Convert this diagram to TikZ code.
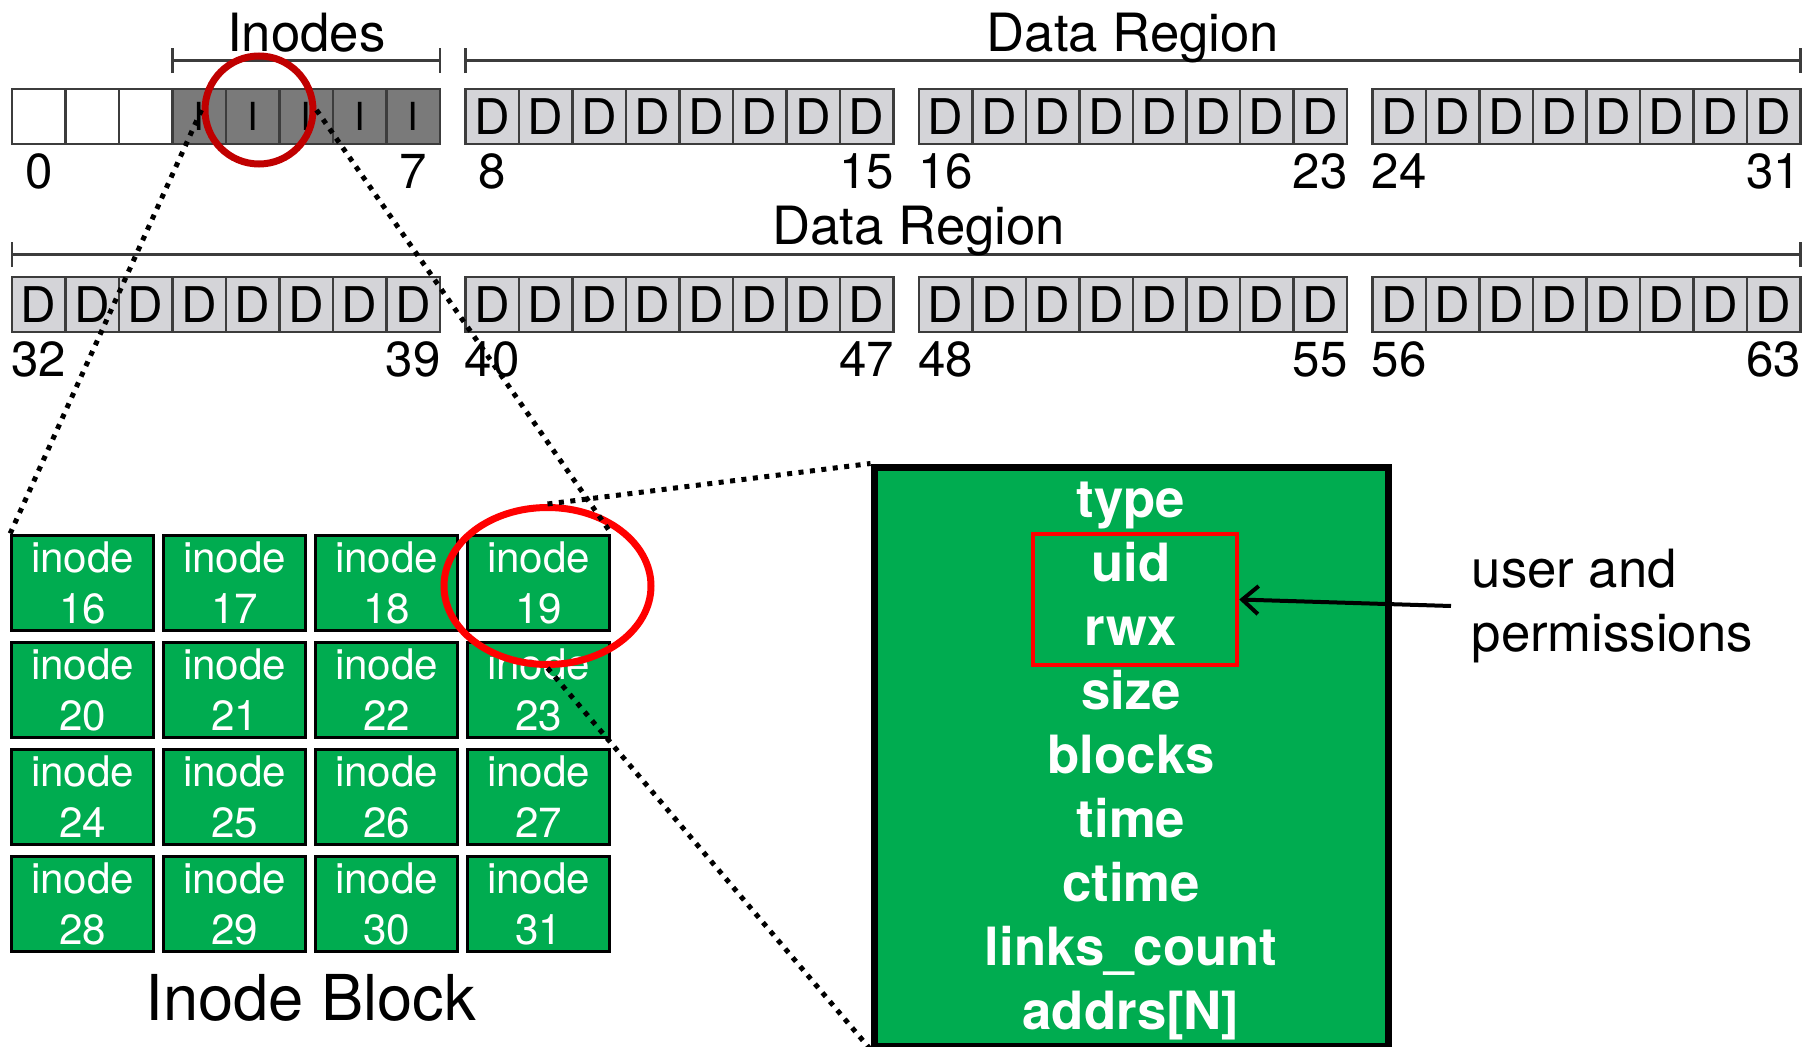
\documentclass[tikz,border=0pt]{standalone}
\usepackage{fontspec}
\setmainfont{TeX Gyre Heros}
\usetikzlibrary{positioning,shapes.geometric,arrows.meta}

\definecolor{igreen}{RGB}{0,172,80}
\definecolor{dgray}{RGB}{60,60,60}
\definecolor{igray}{RGB}{122,122,122}
\definecolor{dlight}{RGB}{212,212,216}
\definecolor{ringred}{RGB}{192,0,0}
\definecolor{boxred}{RGB}{255,0,0}

\tikzset{
	blk/.style={draw=dgray, line width=0.27mm, minimum width=5.35mm, minimum height=5.5mm, inner sep=0pt},
	freeblk/.style={blk, fill=white},
	iblk/.style={blk, fill=igray, font=\fontsize{11pt}{13pt}\selectfont},
	dblk/.style={blk, fill=dlight, font=\fontsize{14pt}{16pt}\selectfont},
	num/.style={inner sep=0pt, font=\fontsize{14pt}{16pt}\selectfont},
	lbl/.style={inner sep=0pt, font=\fontsize{15pt}{18pt}\selectfont},
	biglbl/.style={inner sep=0pt, font=\fontsize{18pt}{21pt}\selectfont},
	brk/.style={draw=dgray, line width=0.25mm, arrows={Bar[width=2.5mm]-Bar[width=2.5mm]}},
	cell/.style={draw=black, fill=igreen, line width=0.3mm, minimum width=14.2mm, minimum height=9.5mm, inner sep=0pt, text=white, align=center, font=\fontsize{12pt}{14.5pt}\selectfont},
	fieldbox/.style={draw=black, fill=igreen, line width=0.7mm, minimum width=51.4mm, minimum height=57.9mm, inner sep=0pt},
	field/.style={inner sep=0pt, text=white, font=\fontsize{15pt}{18pt}\selectfont\bfseries},
	permbox/.style={draw=boxred, line width=0.4mm, minimum width=20.45mm, minimum height=13.1mm, inner sep=0pt},
	note/.style={inner sep=0pt, align=left, font=\fontsize{15pt}{18.2pt}\selectfont},
	ptr/.style={line width=0.4mm, -{Straight Barb[length=1.6mm,width=2.8mm]}},
	zoomline/.style={line width=0.5mm, dash pattern=on 0.5mm off 0.65mm}
}

\begin{document}
\begin{tikzpicture}[x=0.1mm, y=-0.1mm]
	
	\useasboundingbox (0,0) rectangle (1813,1047);
	
	% disk blocks
	\foreach \n in {0,1,2}
		\node[freeblk] (b\n) at (38.75+53.5*\n,116.5) {};
	\foreach \n in {3,...,7}
		\node[iblk] (b\n) at (38.75+53.5*\n,116.5) {I};
	\foreach \n in {8,...,63}{
		\pgfmathtruncatemacro{\k}{mod(\n,32)}
		\pgfmathsetmacro{\xx}{38.75+453.5*int(\k/8)+53.5*mod(\k,8)}
		\pgfmathsetmacro{\yy}{\n<32 ? 116.5 : 304.5}
		\node[dblk] (b\n) at (\xx,\yy) {D};
	}
	
	\foreach \n in {0,7,8,15,16,23,24,31,32,39,40,47,48,55,56,63}
		\node[num, below=0.8mm of b\n] (l\n) {\n};
	
	\draw[brk] ([yshift=2.7mm]b3.north west) -- node[lbl, anchor=base, yshift=0.9mm] (inodeslbl) {Inodes} ([yshift=2.7mm]b7.north east);
	\draw[brk] ([yshift=2.7mm]b8.north west) -- node[lbl, anchor=base, yshift=0.9mm] (datalbl) {Data Region} ([yshift=2.7mm]b31.north east);
	\draw[brk] ([yshift=2.1mm]b32.north west) -- node[lbl, pos=0.507, anchor=base, yshift=1.0mm] (datalblb) {Data Region} ([yshift=2.1mm]b63.north east);
	
	% inode block
	\foreach \r in {0,...,3}
		\foreach \c in {0,...,3}{
			\pgfmathtruncatemacro{\n}{16+4*\r+\c}
			\node[cell] (c\n) at (82.7+152*\c,582.5+107*\r) {inode\\\n};
		}
	\node[biglbl, anchor=base] (blocklbl) at (311,1020) {Inode Block};
	
	% one inode
	\node[fieldbox] (ibox) at (1131,756.5) {};
	\foreach \f [count=\i] in {type,uid,rwx,size,blocks,time,ctime,{links\_count},{addrs[N]}}
		\node[field, anchor=base] (f\i) at (1131,453+64*\i) {\f};
	\node[permbox] (perm) at (1135,599.5) {};
	\node[note, anchor=west] (perminfo) at (1471,606) {user and\\permissions};
	\draw[ptr] ([xshift=-2mm]perminfo.west) -- (perm.east);
	
	% zoom rings
	\node[draw=ringred, circle, line width=0.7mm, minimum size=10.8mm, inner sep=0pt] (topring) at (259,110) {};
	\node[draw=boxred, ellipse, line width=0.7mm, minimum width=20.7mm, minimum height=15.7mm, inner sep=0pt] (ring19) at (547.5,586) {};
	
	\draw[zoomline] (topring.west) -- (c16.north west);
	\draw[zoomline] (topring.east) -- (c19.north east);
	\draw[zoomline] (ring19.north) -- (ibox.north west);
	\draw[zoomline] (ring19.south) -- (ibox.south west);
	
\end{tikzpicture}
\end{document}
